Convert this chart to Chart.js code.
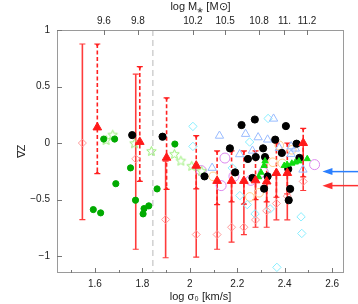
<!DOCTYPE html>
<html><head><meta charset="utf-8">
<script src="https://cdn.jsdelivr.net/npm/chart.js@4"></script>
<style>html,body{margin:0;padding:0;background:#fff}#wrap{width:358px;height:304px;position:relative}</style>
</head><body><div id="wrap"><canvas id="c"></canvas></div>
<script>
// ---- axis ticks ----
const yTicks = [-1, -0.5, 0, 0.5, 1];
const xTicks = [1.6, 1.8, 2.0, 2.2, 2.4, 2.6];
const xMinorTicks = [1.5, 1.7, 1.9, 2.1, 2.3, 2.5];
const massTickPos = [1.638, 1.781, 2.013, 2.149, 2.292, 2.399, 2.494];
const massTickLabels = ['9.6', '9.8', '10.2', '10.5', '10.8', '11.', '11.2'];
const dividerX = 1.844;

// ---- red triangles with dashed error bars ----
const triX  = [1.61, 1.789, 1.902, 2.027, 2.115, 2.176, 2.228, 2.277, 2.324, 2.365, 2.411, 2.478];
const triY  = [0.138, 0.01, -0.13, -0.20, -0.335, -0.335, -0.335, -0.33, -0.34, -0.265, -0.265, 0.0];
const triHi = [0.876, 0.676, 0.40, 0.065, -0.07, -0.07, -0.07, -0.07, -0.13, 0.0, 0.0, 0.13];
const triLo = [-0.27, -0.339, -0.41, -0.405, -0.545, -0.52, -0.54, -0.5, -0.52, -0.48, -0.45, -0.3];

// ---- pink open diamonds with solid error bars ----
const diaX  = [1.547, 1.772, 1.898, 2.027, 2.115, 2.176, 2.228, 2.277, 2.324, 2.365, 2.411, 2.478];
const diaY  = [0.0, -0.14, -0.677, -0.81, -0.81, -0.745, -0.745, -0.68, -0.60, -0.535, -0.47, -0.34];
const diaHi = [0.876, 0.609, -0.16, -0.22, -0.35, -0.35, -0.35, -0.34, -0.35, -0.28, -0.28, -0.02];
const diaLo = [-0.677, -0.94, -1.015, -1.01, -0.94, -0.877, -0.81, -0.745, -0.745, -0.68, -0.68, -0.42];

// ---- other samples ----
const greenX = [1.593, 1.624, 1.637, 1.683, 1.688, 1.750, 1.771, 1.803, 1.807, 1.827, 1.862, 1.937];
const greenY = [-0.589, -0.618, 0.035, 0.035, -0.36, -0.22, -0.506, -0.627, -0.58, -0.556, -0.406, -0.009];
const starX = [1.647, 1.675, 1.767, 1.838, 1.935, 1.962, 2.008, 2.05];
const starY = [0.023, 0.07, -0.006, -0.074, -0.10, -0.16, -0.206, -0.25];
const blackX = [1.757, 1.885, 2.062, 2.169, 2.191, 2.218, 2.245, 2.264, 2.274, 2.278, 2.309, 2.313, 2.317, 2.328, 2.36, 2.388, 2.405, 2.415, 2.423, 2.417, 2.45, 2.462];
const blackY = [0.07, 0.056, -0.295, -0.047, -0.26, 0.159, -0.141, -0.309, 0.208, -0.124, -0.047, -0.404, -0.124, -0.295, 0.03, -0.088, 0.15, -0.23, -0.406, -0.506, -0.006, -0.132];
const ltriX = [2.094, 2.125, 2.21, 2.235, 2.264, 2.288, 2.328, 2.353, 2.377, 2.427, 2.427, 2.445, 2.477];
const ltriY = [-0.22, 0.064, -0.10, 0.08, -0.068, 0.05, 0.03, 0.215, -0.044, -0.03, -0.097, -0.05, -0.236];
const cyanX = [2.013, 2.013, 2.252, 2.33, 2.179, 2.211, 2.242, 2.275, 2.339, 2.469, 2.472, 2.367];
const cyanY = [0.147, -0.03, 0.009, 0.217, -0.22, -0.465, -0.545, -0.627, -0.583, -0.653, -0.8, -1.1];
const orangeX = [2.098, 2.253, 2.292, 2.35, 2.377, 2.39, 2.43];
const orangeY = [-0.295, -0.477, -0.44, -0.17, -0.02, -0.18, -0.06];
const violetX = [2.048, 2.132, 2.148, 2.186, 2.257, 2.31, 2.526];
const violetY = [-0.244, -0.377, -0.133, -0.295, -0.33, -0.26, -0.191];
const gtriX = [2.29, 2.30, 2.313, 2.317, 2.398, 2.41, 2.43, 2.445, 2.46, 2.495];
const gtriY = [-0.3, -0.26, -0.2, -0.16, -0.2, -0.19, -0.18, -0.17, -0.16, -0.14];

// ---- arrows on the right ----
const arrowY = [-0.253, -0.377];
const arrowColors = ['#2a7fff', '#ff3030'];
const arrowTipX = 2.559;

const pts = (xs, ys) => xs.map((x, i) => ({x, y: ys[i]}));
const fmt = v => String(+(+v).toFixed(2)).replace('-', '\u2212');
const FONT = 'Liberation Sans, Arial, sans-serif';

function starCanvas(r, color) {
  const c = document.createElement('canvas');
  const s = Math.ceil(2 * r + 3); c.width = s; c.height = s;
  const g = c.getContext('2d');
  g.strokeStyle = color; g.lineWidth = 1; g.beginPath();
  for (let k = 0; k < 10; k++) {
    const rr = k % 2 ? r * 0.45 : r;
    const a = -Math.PI / 2 + k * Math.PI / 5;
    const px = s / 2 + rr * Math.cos(a), py = s / 2 + rr * Math.sin(a);
    k ? g.lineTo(px, py) : g.moveTo(px, py);
  }
  g.closePath(); g.stroke();
  return c;
}

function errBars(ctx, xs, lo, hi, dashed, color, xs_, ys_) {
  ctx.strokeStyle = color;
  ctx.lineWidth = 1.6;
  for (let i = 0; i < xs.length; i++) {
    const px = xs_.getPixelForValue(xs[i]);
    const p1 = ys_.getPixelForValue(hi[i]), p2 = ys_.getPixelForValue(lo[i]);
    ctx.setLineDash(dashed ? [4, 2.5] : []);
    ctx.beginPath(); ctx.moveTo(px, p1); ctx.lineTo(px, p2); ctx.stroke();
    ctx.setLineDash([]);
    ctx.lineWidth = 1.2;
    ctx.beginPath();
    ctx.moveTo(px - 3, p1); ctx.lineTo(px + 3, p1);
    ctx.moveTo(px - 3, p2); ctx.lineTo(px + 3, p2);
    ctx.stroke();
    if (dashed) {
      ctx.fillStyle = color;
      ctx.beginPath(); ctx.moveTo(px - 2, p1); ctx.lineTo(px + 2, p1); ctx.lineTo(px, p1 + 3); ctx.closePath(); ctx.fill();
      ctx.beginPath(); ctx.moveTo(px - 2, p2); ctx.lineTo(px + 2, p2); ctx.lineTo(px, p2 - 3); ctx.closePath(); ctx.fill();
    }
    ctx.lineWidth = 1.6;
  }
}

const decor = {
  id: 'decor',
  beforeDatasetsDraw(chart) {
    const {ctx, chartArea: a} = chart;
    const {x, y, x2} = chart.scales;
    ctx.save();
    // divider
    const vx = x.getPixelForValue(dividerX);
    ctx.strokeStyle = '#d0d0d0'; ctx.lineWidth = 1.5; ctx.setLineDash([6, 4]);
    ctx.beginPath(); ctx.moveTo(vx, a.top); ctx.lineTo(vx, a.bottom); ctx.stroke();
    ctx.setLineDash([]);
    // frame
    ctx.strokeStyle = '#9a9a9a'; ctx.lineWidth = 1;
    ctx.strokeRect(a.left + 0.5, a.top + 0.5, a.right - a.left - 1, a.bottom - a.top - 1);
    // inward ticks
    ctx.strokeStyle = '#777'; ctx.beginPath();
    xTicks.forEach(v => { const p = Math.round(x.getPixelForValue(v)) + 0.5; ctx.moveTo(p, a.bottom); ctx.lineTo(p, a.bottom - 5); });
    xMinorTicks.forEach(v => { const p = Math.round(x.getPixelForValue(v)) + 0.5; ctx.moveTo(p, a.bottom); ctx.lineTo(p, a.bottom - 3); });
    massTickPos.forEach(v => { const p = Math.round(x2.getPixelForValue(v)) + 0.5; ctx.moveTo(p, a.top); ctx.lineTo(p, a.top + 5); });
    yTicks.forEach(v => { const p = Math.round(y.getPixelForValue(v)) + 0.5; ctx.moveTo(a.left, p); ctx.lineTo(a.left + 5, p); });
    ctx.stroke();
    // error bars
    errBars(ctx, diaX, diaLo, diaHi, false, '#ff3b3b', x, y);
    errBars(ctx, triX, triLo, triHi, true, '#ff2020', x, y);
    ctx.restore();
  },
  afterDraw(chart) {
    const {ctx} = chart;
    const {x, y} = chart.scales;
    ctx.save();
    arrowY.forEach((v, i) => {
      const py = y.getPixelForValue(v);
      const tip = x.getPixelForValue(arrowTipX);
      ctx.strokeStyle = arrowColors[i]; ctx.fillStyle = arrowColors[i]; ctx.lineWidth = 1.5;
      ctx.beginPath(); ctx.moveTo(chart.width, py); ctx.lineTo(tip + 6, py); ctx.stroke();
      ctx.beginPath(); ctx.moveTo(tip, py); ctx.lineTo(tip + 10, py - 3.5); ctx.lineTo(tip + 10, py + 3.5); ctx.closePath(); ctx.fill();
    });
    ctx.restore();
  }
};

const sc = (label, xs, ys, style, r, fill, stroke, bw) => ({
  label, data: pts(xs, ys), pointStyle: style, pointRadius: r,
  backgroundColor: fill, borderColor: stroke, borderWidth: bw, showLine: false
});

new Chart(document.getElementById('c'), {
  type: 'scatter',
  data: {
    datasets: [
      sc('tri', triX, triY, 'triangle', 5, '#ff1a1a', '#ff1a1a', 1),
      sc('gtri', gtriX, gtriY, 'triangle', 3.6, '#11dd11', '#11dd11', 1),
      sc('black', blackX, blackY, 'circle', 3.6, '#000', '#000', 1),
      sc('dia', diaX, diaY, 'rectRot', 4, 'rgba(0,0,0,0)', '#ff9a9a', 1),
      sc('green', greenX, greenY, 'circle', 3.1, '#00aa00', '#00aa00', 1),
      sc('star', starX, starY, starCanvas(5, '#99ee77'), 5, 'rgba(0,0,0,0)', '#99ee77', 1),
      sc('ltri', ltriX, ltriY, 'triangle', 4.8, 'rgba(0,0,0,0)', '#99bbff', 1),
      sc('cyan', cyanX, cyanY, 'rectRot', 4.2, 'rgba(0,0,0,0)', '#88eeff', 1),
      sc('orange', orangeX, orangeY, 'circle', 4.3, 'rgba(0,0,0,0)', '#ffcc88', 1),
      sc('violet', violetX, violetY, 'circle', 5, 'rgba(0,0,0,0)', '#dd88ee', 1)
    ]
  },
  options: {
    responsive: true, maintainAspectRatio: false, animation: false,
    layout: {padding: {left: 0, right: 14, top: 0, bottom: 0}},
    plugins: {legend: {display: false}, tooltip: {enabled: false}},
    scales: {
      x: {
        type: 'linear', position: 'bottom', min: 1.44, max: 2.65,
        afterBuildTicks: s => { s.ticks = xTicks.map(v => ({value: v})); },
        afterFit: s => { s.height = 31; },
        grid: {display: false, drawTicks: false}, border: {display: false},
        ticks: {padding: 5, color: '#222', font: {family: FONT, size: 10}, callback: v => fmt(v), maxRotation: 0, autoSkip: false},
        title: {display: true, text: 'log \u03c3\u2080 [km/s]', padding: 0, color: '#222', font: {family: FONT, size: 11}}
      },
      x2: {
        type: 'linear', position: 'top', min: 1.44, max: 2.65,
        afterBuildTicks: s => { s.ticks = massTickPos.map(v => ({value: v})); },
        afterFit: s => { s.height = 30; },
        grid: {display: false, drawTicks: false}, border: {display: false},
        ticks: {padding: 3, color: '#222', font: {family: FONT, size: 10}, callback: (v, i) => massTickLabels[i], maxRotation: 0, autoSkip: false},
        title: {display: true, text: 'log M\u204e [M\u2299]', padding: 0, color: '#222', font: {family: FONT, size: 11}}
      },
      y: {
        type: 'linear', min: -1.15, max: 1,
        afterBuildTicks: s => { s.ticks = yTicks.map(v => ({value: v})); },
        afterFit: s => { s.width = 57; },
        grid: {display: false, drawTicks: false}, border: {display: false},
        ticks: {padding: 7, color: '#222', font: {family: FONT, size: 10}, callback: v => fmt(v), autoSkip: false},
        title: {display: true, text: '\u2207Z', padding: {top: 15, bottom: 0}, color: '#222', font: {family: FONT, size: 11}}
      }
    }
  },
  plugins: [decor]
});
</script></body></html>
